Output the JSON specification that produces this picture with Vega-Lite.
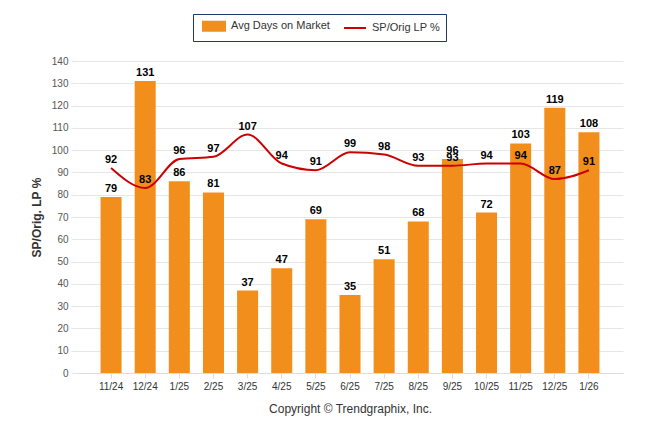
{
  "$schema": "https://vega.github.io/schema/vega-lite/v6.json",
  "width": 546,
  "height": 312,
  "autosize": {"type": "none"},
  "padding": {"left": 77, "top": 61, "right": 23, "bottom": 61},
  "background": "white",
  "config": {
    "view": {"stroke": null},
    "font": "Liberation Sans",
    "axisY": {
      "labelOverlap": false,
      "grid": true,
      "gridColor": "#e6e6e6",
      "domain": false,
      "tickColor": "#e6e6e6",
      "tickSize": 6,
      "labelPadding": 3,
      "labelFontSize": 10,
      "labelColor": "#555555",
      "titleFontSize": 12,
      "titleFontWeight": "bold",
      "titleColor": "#333333",
      "titlePadding": 8
    }
  },
  "data": {
    "values": [
      {"month": "11/24", "days": 79, "sp": 92},
      {"month": "12/24", "days": 131, "sp": 83},
      {"month": "1/25", "days": 86, "sp": 96},
      {"month": "2/25", "days": 81, "sp": 97},
      {"month": "3/25", "days": 37, "sp": 107},
      {"month": "4/25", "days": 47, "sp": 94},
      {"month": "5/25", "days": 69, "sp": 91},
      {"month": "6/25", "days": 35, "sp": 99},
      {"month": "7/25", "days": 51, "sp": 98},
      {"month": "8/25", "days": 68, "sp": 93},
      {"month": "9/25", "days": 96, "sp": 93},
      {"month": "10/25", "days": 72, "sp": 94},
      {"month": "11/25", "days": 103, "sp": 94},
      {"month": "12/25", "days": 119, "sp": 87},
      {"month": "1/26", "days": 108, "sp": 91}
    ]
  },
  "encoding": {
    "x": {
      "field": "month",
      "type": "ordinal",
      "sort": null,
      "scale": {"paddingInner": 0.384, "paddingOuter": 0.69},
      "axis": {
        "labelAngle": 0,
        "labelFontSize": 10,
        "labelColor": "#333333",
        "labelPadding": 3,
        "domainColor": "#dddddd",
        "tickColor": "#dddddd",
        "tickSize": 5,
        "title": "Copyright © Trendgraphix, Inc.",
        "titleFontSize": 12,
        "titleFontWeight": "normal",
        "titleColor": "#333333",
        "titlePadding": 12
      }
    }
  },
  "layer": [
    {
      "mark": {"type": "bar", "color": "#F28F1C"},
      "encoding": {
        "y": {
          "field": "days",
          "type": "quantitative",
          "scale": {"domain": [0, 140], "nice": false},
          "axis": {
            "values": [0, 10, 20, 30, 40, 50, 60, 70, 80, 90, 100, 110, 120, 130, 140],
            "tickCount": 15,
            "labelOverlap": false,
            "title": "SP/Orig. LP %"
          }
        },
        "color": {
          "datum": "Avg Days on Market",
          "scale": {"domain": ["Avg Days on Market", "SP/Orig LP %"], "range": ["#F28F1C", "#CC0000"]},
          "legend": {
            "orient": "none",
            "legendX": 116,
            "legendY": -47,
            "direction": "horizontal",
            "title": null,
            "strokeColor": "#1f3864",
            "fillColor": "white",
            "padding": 6,
            "symbolSize": 100,
            "symbolOffset": 9,
            "labelOffset": 11,
            "columnPadding": 10,
            "labelFontSize": 11,
            "labelColor": "#333333",
            "encode": {
              "symbols": {
                "update": {
                  "shape": {"signal": "datum.value === 'SP/Orig LP %' ? 'M-2.2,0H2.2' : 'M-2.2,-0.9H2.2V0.9H-2.2Z'"},
                  "fill": {"signal": "datum.value === 'SP/Orig LP %' ? 'transparent' : '#F28F1C'"},
                  "stroke": {"signal": "datum.value === 'SP/Orig LP %' ? '#CC0000' : 'transparent'"},
                  "strokeWidth": {"value": 2},
                  "opacity": {"value": 1},
                  "fillOpacity": {"value": 1},
                  "strokeOpacity": {"value": 1}
                }
              }
            }
          }
        }
      }
    },
    {
      "mark": {"type": "text", "baseline": "middle", "dy": -8, "fontSize": 11, "fontWeight": "bold", "color": "#000000"},
      "encoding": {
        "y": {
          "field": "days",
          "type": "quantitative",
          "axis": {
            "values": [0, 10, 20, 30, 40, 50, 60, 70, 80, 90, 100, 110, 120, 130, 140],
            "tickCount": 15,
            "labelOverlap": false,
            "title": "SP/Orig. LP %"
          }
        },
        "text": {"field": "days", "type": "quantitative"}
      }
    },
    {
      "mark": {"type": "line", "interpolate": "monotone", "strokeWidth": 2},
      "encoding": {
        "y": {
          "field": "sp",
          "type": "quantitative",
          "axis": {
            "values": [0, 10, 20, 30, 40, 50, 60, 70, 80, 90, 100, 110, 120, 130, 140],
            "tickCount": 15,
            "labelOverlap": false,
            "title": "SP/Orig. LP %"
          }
        },
        "color": {"datum": "SP/Orig LP %"}
      }
    },
    {
      "mark": {"type": "text", "baseline": "middle", "dy": -8, "fontSize": 11, "fontWeight": "bold", "color": "#000000"},
      "encoding": {
        "y": {
          "field": "sp",
          "type": "quantitative",
          "axis": {
            "values": [0, 10, 20, 30, 40, 50, 60, 70, 80, 90, 100, 110, 120, 130, 140],
            "tickCount": 15,
            "labelOverlap": false,
            "title": "SP/Orig. LP %"
          }
        },
        "text": {"field": "sp", "type": "quantitative"}
      }
    }
  ]
}
